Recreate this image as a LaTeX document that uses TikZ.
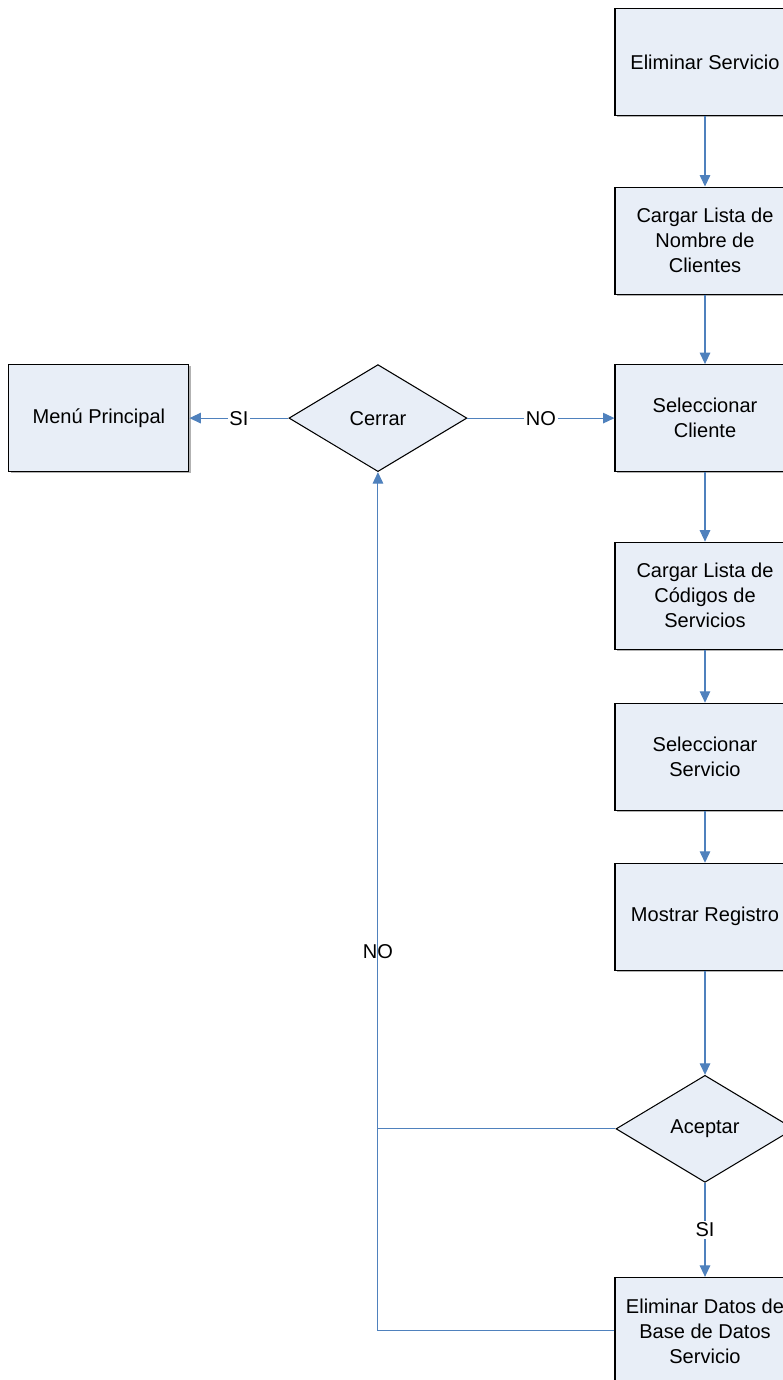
\documentclass[tikz,border=0pt]{standalone}
\usepackage{fontspec}
\setmainfont{Liberation Sans}
\usetikzlibrary{arrows.meta,positioning,shapes.geometric,shadows}
\definecolor{cajafill}{HTML}{E8EEF7}
\definecolor{flecha}{HTML}{4F81BD}
\tikzset{
    paso/.style =     {rectangle,
                      fill=cajafill,
                      draw=black,
                      text=black,
                      line width=0.6pt,
                      align=center,
                      minimum width=3.6cm,
                      minimum height=2.14cm,
                      drop shadow={shadow xshift=1pt,
                                   shadow yshift=-1pt,
                                   fill=black!60}},
    decision/.style = {diamond,
                      fill=cajafill,
                      draw=black,
                      text=black,
                      line width=0.6pt,
                      inner sep=0pt,
                      minimum width=3.56cm,
                      minimum height=2.14cm},
    etiqueta/.style = {fill=white,
                      text=black,
                      inner sep=1pt},
    -,
    flujo/.style =    {color=flecha,
                      line width=0.6pt},
    >={Triangle[width=6pt,length=6.5pt]},
    font=\fontsize{11.4}{14.2}\selectfont}

\begin{document}
\begin{tikzpicture}
    \useasboundingbox (0,0) rectangle (15.64,-27.6);
                    \node[paso]      (elim)          at (14.1,-1.24)                 {Eliminar Servicio};
                    \node[paso]      (cargaclientes) [below=1.41cm of elim]          {Cargar Lista de\\Nombre de\\Clientes};
                    \node[paso]      (selcliente)    [below=1.39cm of cargaclientes] {Seleccionar\\Cliente};
                    \node[paso]      (cargacodigos)  [below=1.39cm of selcliente]    {Cargar Lista de\\Códigos de\\Servicios};
                    \node[paso]      (selservicio)   [below=1.06cm of cargacodigos]  {Seleccionar\\Servicio};
                    \node[paso]      (mostrar)       [below=1.04cm of selservicio]   {Mostrar Registro};
                    \node[decision]  (aceptar)       [below=2.08cm of mostrar]       {Aceptar};
                    \node[paso]      (elimdatos)     [below=1.88cm of aceptar]       {Eliminar Datos de\\Base de Datos\\Servicio};
                    \node[decision]  (cerrar)        [left=2.94cm of selcliente]     {Cerrar};
                    \node[paso]      (menu)          [left=1.98cm of cerrar]         {Menú Principal};
                    \coordinate      (union)         at (aceptar.west -| cerrar.south);
                    \path [flujo,->] (elim) edge                                     (cargaclientes)
                                     (cargaclientes) edge                            (selcliente)
                                     (selcliente) edge                               (cargacodigos)
                                     (cargacodigos) edge                             (selservicio)
                                     (selservicio) edge                              (mostrar)
                                     (mostrar) edge                                  (aceptar)
                                     (aceptar) edge node [etiqueta] {SI}             (elimdatos)
                                     (cerrar) edge node [etiqueta] {NO}              (selcliente)
                                     (cerrar) edge node [etiqueta] {SI}              (menu);
                    \draw [flujo,->] (aceptar.west) -| node [pos=0.635,text=black] {NO} (cerrar.south);
                    \draw [flujo]    (elimdatos.west) -|                             (union);
\end{tikzpicture}
\end{document}
